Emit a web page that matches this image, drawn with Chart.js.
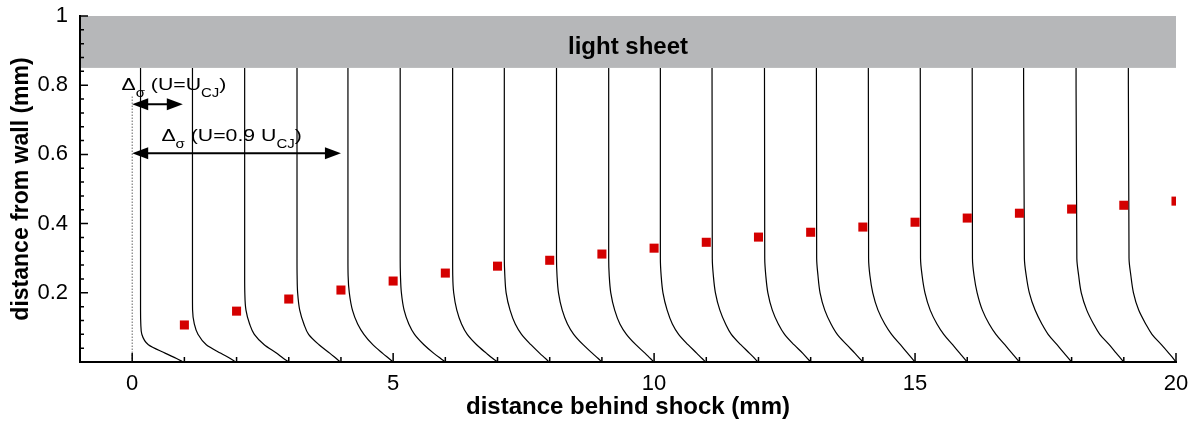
<!DOCTYPE html>
<html>
<head>
<meta charset="utf-8">
<script src="https://cdn.jsdelivr.net/npm/chart.js@4.4.1/dist/chart.umd.min.js"></script>
<style>
  html, body { margin: 0; padding: 0; background: #fff; }
</style>
</head>
<body>
<canvas id="profileChart" width="1195" height="422"></canvas>
<script>
// stations where each velocity profile starts (mm behind shock)
const stations = [0, 1, 2, 3, 4, 5, 6, 7, 8, 9, 10, 11, 12, 13, 14, 15, 16, 17, 18, 19];

// heights (mm) at which the profile curves were read
const wallLevels = [0.85, 0.30, 0.25, 0.20, 0.15, 0.11, 0.08, 0.05, 0.025, 0.01, 0];

// x offset of each profile from its station, one row per station
const profileOffsets = [
  [0.160, 0.160, 0.160, 0.160, 0.160, 0.165, 0.185, 0.31, 0.64, 0.85, 0.98],
  [0.155, 0.155, 0.155, 0.155, 0.157, 0.19, 0.26, 0.42, 0.70, 0.88, 0.98],
  [0.155, 0.155, 0.155, 0.158, 0.18, 0.25, 0.34, 0.53, 0.77, 0.90, 1.00],
  [0.158, 0.158, 0.160, 0.17, 0.21, 0.29, 0.38, 0.58, 0.79, 0.91, 0.99],
  [0.134, 0.134, 0.137, 0.16, 0.22, 0.32, 0.44, 0.61, 0.80, 0.92, 1.00],
  [0.135, 0.135, 0.140, 0.158, 0.21, 0.30, 0.41, 0.59, 0.78, 0.91, 1.00],
  [0.140, 0.140, 0.142, 0.16, 0.22, 0.31, 0.42, 0.60, 0.79, 0.91, 1.00],
  [0.130, 0.130, 0.140, 0.165, 0.24, 0.34, 0.46, 0.64, 0.81, 0.92, 0.99],
  [0.130, 0.130, 0.140, 0.168, 0.24, 0.34, 0.46, 0.64, 0.82, 0.93, 1.00],
  [0.130, 0.130, 0.140, 0.17, 0.245, 0.345, 0.47, 0.65, 0.83, 0.93, 1.00],
  [0.120, 0.120, 0.135, 0.17, 0.25, 0.35, 0.47, 0.65, 0.82, 0.92, 0.99],
  [0.110, 0.115, 0.135, 0.175, 0.26, 0.37, 0.48, 0.66, 0.83, 0.93, 0.99],
  [0.115, 0.120, 0.140, 0.18, 0.265, 0.38, 0.50, 0.68, 0.85, 0.94, 1.00],
  [0.110, 0.115, 0.140, 0.18, 0.27, 0.39, 0.51, 0.69, 0.85, 0.94, 1.00],
  [0.105, 0.110, 0.135, 0.19, 0.29, 0.42, 0.55, 0.72, 0.86, 0.945, 1.00],
  [0.100, 0.105, 0.135, 0.19, 0.29, 0.42, 0.55, 0.72, 0.86, 0.945, 1.00],
  [0.095, 0.100, 0.130, 0.19, 0.29, 0.42, 0.55, 0.72, 0.86, 0.945, 1.00],
  [0.080, 0.095, 0.130, 0.19, 0.30, 0.43, 0.55, 0.72, 0.86, 0.945, 1.00],
  [0.085, 0.100, 0.135, 0.185, 0.29, 0.42, 0.54, 0.72, 0.86, 0.945, 1.00],
  [0.087, 0.100, 0.135, 0.185, 0.285, 0.42, 0.54, 0.72, 0.865, 0.95, 1.00]
];

// red squares
const markerX = [1, 2, 3, 4, 5, 6, 7, 8, 9, 10, 11, 12, 13, 14, 15, 16, 17, 18, 19, 20];
const markerY = [0.107, 0.147, 0.182, 0.208, 0.234, 0.257, 0.277, 0.294, 0.312, 0.329,
                 0.346, 0.361, 0.375, 0.390, 0.404, 0.416, 0.430, 0.442, 0.453, 0.465];

// tick labels
const xTickValues = [0, 5, 10, 15, 20];
const yTickValues = [0.2, 0.4, 0.6, 0.8, 1];

// light sheet band (mm from wall)
const sheetBand = [0.85, 1];

// shock position marker (dotted) and the two thickness arrows
const shockLine = [0, 0.77];
const arrowY = [0.745, 0.603];
const arrowEnd = [0.97, 4.0];
const arrowText = ['(U=U', '(U=0.9 U'];
const arrowTextPos = [[-0.205, 0.786], [0.56, 0.639]];

const FONT = "'Liberation Sans', Arial, Helvetica, sans-serif";
Chart.defaults.font.family = FONT;
Chart.defaults.color = '#000';

const profileSets = stations.map((s, i) => ({
  data: wallLevels.map((h, k) => ({ x: s + profileOffsets[i][k], y: h })),
  indexAxis: 'y',
  showLine: true,
  borderColor: '#000',
  borderWidth: 1.2,
  pointRadius: 0,
  cubicInterpolationMode: 'monotone'
}));

// grey band with its label, drawn under the axes
const bandPlugin = {
  id: 'band',
  beforeDraw(chart) {
    const { ctx, scales: { x, y } } = chart;
    const x0 = x.getPixelForValue(x.min), x1 = x.getPixelForValue(x.max);
    const y0 = y.getPixelForValue(sheetBand[1]), y1 = y.getPixelForValue(sheetBand[0]);
    ctx.save();
    ctx.fillStyle = '#b6b7b9';
    ctx.fillRect(x0, y0, x1 - x0, y1 - y0);
    ctx.fillStyle = '#000';
    ctx.font = 'bold 24px ' + FONT;
    ctx.textAlign = 'center';
    ctx.textBaseline = 'alphabetic';
    ctx.fillText('light sheet', (x0 + x1) / 2, y.getPixelForValue(0.889));
    ctx.restore();
  }
};

// ticks pointing into the plot, with minor ticks
const tickPlugin = {
  id: 'insideTicks',
  afterDraw(chart) {
    const { ctx, chartArea: a, scales: { x, y } } = chart;
    ctx.save();
    ctx.strokeStyle = '#000';
    ctx.lineWidth = 1.5;
    ctx.beginPath();
    for (let v = -1; v <= 20; v++) {
      const px = x.getPixelForValue(v);
      ctx.moveTo(px, a.bottom);
      ctx.lineTo(px, a.bottom - (v % 5 === 0 ? 9 : 5));
    }
    for (let i = 0; i <= 25; i++) {
      const py = y.getPixelForValue(i * 0.04);
      ctx.moveTo(a.left, py);
      ctx.lineTo(a.left + (i % 5 === 0 ? 8 : 4), py);
    }
    ctx.stroke();
    ctx.restore();
  }
};

function drawPieces(ctx, px, py, pieces) {
  const sx = 1.25;
  let cx = px;
  pieces.forEach(([t, sub]) => {
    ctx.font = (sub ? '12px ' : '17px ') + FONT;
    ctx.save();
    ctx.translate(cx, py + (sub ? 7 : 0));
    ctx.scale(sx, 1);
    ctx.fillText(t, 0, 0);
    ctx.restore();
    cx += ctx.measureText(t).width * sx;
  });
}

function arrowHead(ctx, tipX, tipY, dir) {
  ctx.beginPath();
  ctx.moveTo(tipX, tipY);
  ctx.lineTo(tipX - dir * 16, tipY - 6);
  ctx.lineTo(tipX - dir * 16, tipY + 6);
  ctx.closePath();
  ctx.fill();
}

const arrowPlugin = {
  id: 'arrows',
  afterDatasetsDraw(chart) {
    const { ctx, scales: { x, y } } = chart;
    ctx.save();
    ctx.strokeStyle = '#000';
    ctx.fillStyle = '#000';
    ctx.lineWidth = 2;
    arrowY.forEach((v, i) => {
      const py = y.getPixelForValue(v);
      const xa = x.getPixelForValue(0), xb = x.getPixelForValue(arrowEnd[i]);
      ctx.beginPath();
      ctx.moveTo(xa + 8, py);
      ctx.lineTo(xb - 8, py);
      ctx.stroke();
      arrowHead(ctx, xa, py, -1);
      arrowHead(ctx, xb, py, 1);
      const [tx, ty] = arrowTextPos[i];
      ctx.textBaseline = 'alphabetic';
      ctx.textAlign = 'left';
      drawPieces(ctx, x.getPixelForValue(tx), y.getPixelForValue(ty),
        [['Δ', 0], ['σ', 1], [' ' + arrowText[i], 0], ['CJ', 1], [')', 0]]);
    });
    ctx.restore();
  }
};

new Chart(document.getElementById('profileChart'), {
  type: 'scatter',
  data: {
    datasets: [
      {
        data: markerX.map((v, i) => ({ x: v, y: markerY[i] })),
        pointStyle: 'rect',
        pointRadius: 6.4,
        backgroundColor: '#d40000',
        borderWidth: 0
      },
      {
        data: [{ x: 0, y: shockLine[0] }, { x: 0, y: shockLine[1] }],
        showLine: true,
        borderColor: '#666',
        borderWidth: 1,
        borderDash: [1.5, 1.5],
        pointRadius: 0
      },
      ...profileSets
    ]
  },
  options: {
    responsive: false,
    animation: false,
    devicePixelRatio: 1,
    layout: { padding: { left: 0, right: 19, top: 16, bottom: 0 } },
    plugins: { legend: { display: false }, tooltip: { enabled: false } },
    scales: {
      x: {
        type: 'linear',
        min: -1,
        max: 20,
        grid: { display: false, drawTicks: false },
        border: { display: true, color: '#000', width: 2 },
        afterBuildTicks: s => { s.ticks = xTickValues.map(v => ({ value: v })); },
        afterFit: s => { s.height = 60; s.paddingLeft = 0; s.paddingRight = 0; },
        ticks: { padding: 9, font: { size: 22 }, maxRotation: 0, autoSkip: false },
        title: {
          display: true,
          text: 'distance behind shock (mm)',
          font: { size: 24, weight: 'bold' },
          padding: { top: 0, bottom: 0 }
        }
      },
      y: {
        type: 'linear',
        min: 0,
        max: 1,
        grid: { display: false, drawTicks: false },
        border: { display: true, color: '#000', width: 2 },
        afterBuildTicks: s => { s.ticks = yTickValues.map(v => ({ value: v })); },
        afterFit: s => { s.width = 80; s.paddingTop = 0; s.paddingBottom = 0; },
        ticks: { padding: 12, font: { size: 22 }, autoSkip: false, callback: v => String(v) },
        title: {
          display: true,
          text: 'distance from wall (mm)',
          font: { size: 23, weight: 'bold' },
          padding: { top: 8, bottom: 0 }
        }
      }
    }
  },
  plugins: [bandPlugin, tickPlugin, arrowPlugin]
});
</script>
</body>
</html>
